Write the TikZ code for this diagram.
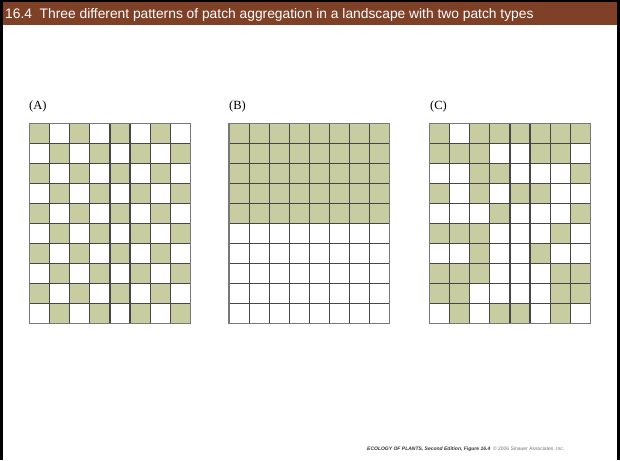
\documentclass[tikz,border=0pt]{standalone}
\usepackage{fontspec}
\setmainfont{Liberation Serif}
\newfontfamily\arialfont{Liberation Sans}
\definecolor{hdrbrown}{RGB}{126,65,40}
\definecolor{patchgreen}{RGB}{199,205,160}
\definecolor{gridline}{RGB}{70,70,70}
\definecolor{gridouter}{RGB}{120,120,120}
\newcommand\cellw{20.1}
\newcommand\cellh{20}
\newcommand\gridtop{123.5}
\newcommand\mygridlines[1]{%
  \foreach \i in {1,...,7}
    \draw[innerline] (#1+\i*\cellw,\gridtop) -- (#1+\i*\cellw,\gridtop+10*\cellh);
  \foreach \j in {1,...,9}
    \draw[innerline] (#1,\gridtop+\j*\cellh) -- (#1+8*\cellw,\gridtop+\j*\cellh);
  \draw[outerline] (#1,\gridtop) rectangle (#1+8*\cellw,\gridtop+10*\cellh);
}
\begin{document}
\begin{tikzpicture}[x=1pt,y=-1pt,
  innerline/.style={draw=gridline,line width=1.2pt},
  outerline/.style={draw=gridouter,line width=1.3pt},
  patchcell/.style={fill=patchgreen},
  panellabel/.style={anchor=base west,inner sep=0pt,font=\fontsize{12.5}{14}\selectfont},
  titletext/.style={anchor=base west,inner sep=0pt,text=white,font=\arialfont\fontsize{13.8}{16}\selectfont},
  credittext/.style={anchor=base west,inner sep=0pt,text=black!80,font=\arialfont\fontsize{5}{6}\selectfont}]
\useasboundingbox (0,0) rectangle (620,460);
\fill[white] (0,0) rectangle (620,460);
% header and frame
\fill[hdrbrown] (0,0) rectangle (620,25);
\fill[black] (0,0) rectangle (620,2.5);
\fill[black] (0,0) rectangle (2.8,460);
\fill[black] (617,0) rectangle (620,460);
\node[titletext] (title) at (5,18.3) {16.4\ \ Three different patterns of patch aggregation in a landscape with two patch types};
% panel labels
\node[panellabel] (labA) at (29,109.5) {(A)};
\node[panellabel] (labB) at (229,109.5) {(B)};
\node[panellabel] (labC) at (430,109.5) {(C)};
% (A) checkerboard
\foreach \r in {0,...,9}
  \foreach \c in {0,...,7} {
    \pgfmathtruncatemacro\parity{mod(\r+\c,2)}
    \ifnum\parity=0
      \fill[patchcell] (29.5+\c*\cellw,\gridtop+\r*\cellh) rectangle ++(\cellw,\cellh);
    \fi
  }
\mygridlines{29.5}
% (B) top half
\fill[patchcell] (229,\gridtop) rectangle (229+8*\cellw,\gridtop+5*\cellh);
\mygridlines{229}
% (C) random
\foreach \row [count=\r from 0] in {{1,0,1,1,1,1,1,1},{1,1,1,0,0,1,1,0},{0,0,1,1,0,0,0,1},{1,0,1,0,1,1,0,0},{0,0,0,1,0,0,0,1},{1,1,1,0,0,0,1,0},{0,0,1,0,0,1,0,0},{1,1,1,0,0,0,1,1},{1,1,0,0,0,0,1,1},{0,1,0,1,1,0,1,0}}
  \foreach \v [count=\c from 0] in \row {
    \ifnum\v=1
      \fill[patchcell] (429.5+\c*\cellw,\gridtop+\r*\cellh) rectangle ++(\cellw,\cellh);
    \fi
  }
\mygridlines{429.5}
% credit line
\node[credittext] (credit) at (367,450.5) {\textbf{\textit{ECOLOGY OF PLANTS, Second Edition, Figure 16.4}}\ \ \textcolor{black!55}{© 2006 Sinauer Associates, Inc.}};
\end{tikzpicture}
\end{document}
